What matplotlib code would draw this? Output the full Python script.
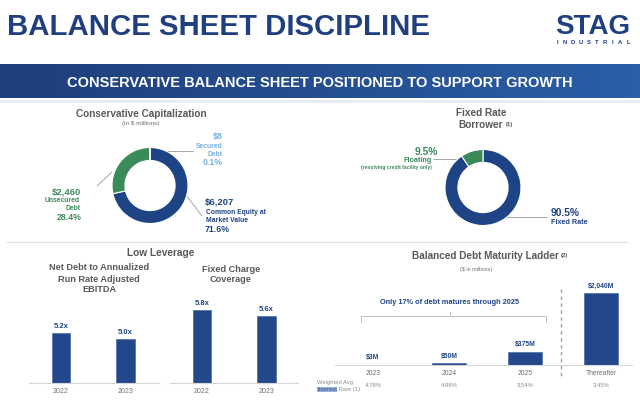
import matplotlib
matplotlib.use('Agg')
import matplotlib.pyplot as plt
import numpy as np
from matplotlib.colors import LinearSegmentedColormap

# ---------------- data ----------------
cap_names = ['Common Equity at\nMarket Value', 'Unsecured\nDebt', 'Secured\nDebt']
cap_values = [6207, 2460, 8]
cap_amounts = ['$6,207', '$2,460', '$8']
cap_pcts = ['71.6%', '28.4%', '0.1%']

rate_names = ['Fixed Rate', 'Floating']
rate_values = [90.5, 9.5]
rate_pcts = ['90.5%', '9.5%']

lev_years = ['2022', '2023']
net_debt_ebitda = [5.2, 5.0]
fixed_charge = [5.8, 5.6]

mat_labels = ['2023', '2024', '2025', 'Thereafter']
mat_values = [3, 50, 375, 2040]
mat_rates = ['4.78%', '4.98%', '3.54%', '3.45%']

# ---------------- style ----------------
NAVY = '#1f4485'
BAR = '#22478a'
GREEN = '#3b8a5a'
LBLUE = '#79aee3'
GRAY = '#595959'
TGRAY = '#707070'
LGRAY = '#bfbfbf'
FONT = ['Liberation Sans', 'DejaVu Sans']
plt.rcParams['font.family'] = FONT

W, H = 640, 400
fig = plt.figure(figsize=(6.4, 4.0), dpi=100)
fig.patch.set_facecolor('white')
bg = fig.add_axes([0, 0, 1, 1])
bg.set_xlim(0, W)
bg.set_ylim(H, 0)
bg.axis('off')


def px_axes(x0, y0, x1, y1):
    a = fig.add_axes([x0 / W, 1 - y1 / H, (x1 - x0) / W, (y1 - y0) / H])
    a.patch.set_alpha(0)
    return a


def T(x, y, s, size, color=GRAY, weight='bold', ha='center', va='center', **kw):
    return bg.text(x, y, s, fontsize=size, color=color, fontweight=weight,
                   ha=ha, va=va, **kw)


def TL(x, ys, s, size, color, ha):
    for y, line in zip(ys, s.split('\n')):
        T(x, y, line, size, color=color, ha=ha)


def L(xs, ys, color='#a6a6a6', lw=0.7, **kw):
    bg.plot(xs, ys, color=color, lw=lw, solid_capstyle='butt', **kw)


# ---------------- header ----------------
T(7, 35, 'BALANCE SHEET DISCIPLINE', 21.2, color='#1f3f80', ha='left', va='baseline')
T(593, 34, 'STAG', 20, color='#1f3f80', va='baseline')
for i, ch in enumerate('INDUSTRIAL'):
    T(557 + i * 7.9, 42, ch, 4.3, color='#1f3f80')

cmap = LinearSegmentedColormap.from_list('ban', ['#1e3e7c', '#2b5fa6'])
bg.imshow(np.linspace(0, 1, 256).reshape(1, -1), cmap=cmap, aspect='auto',
          extent=(0, W, 98, 64), zorder=0)
T(320, 87, 'CONSERVATIVE BALANCE SHEET POSITIONED TO SUPPORT GROWTH', 10.5,
  color='white', va='baseline')
L([0, W], [101, 101], color='#e8ecf2', lw=2)
L([6, 628], [242, 242], color='#e2e2e2', lw=0.8)

# ---------------- donut 1: capitalization ----------------
T(141, 114, 'Conservative Capitalization', 7.2)
T(141, 124, '(in $ millions)', 4.6, color=TGRAY, weight='normal')
ax1 = px_axes(112, 147.5, 188, 223.5)
ax1.pie(cap_values, colors=[NAVY, GREEN, LBLUE], startangle=90, counterclock=False,
        wedgeprops=dict(width=0.34, edgecolor='white', linewidth=0.8))
ax1.set_xlim(-1, 1)
ax1.set_ylim(-1, 1)
ax1.axis('off')

# secured
T(223, 136, cap_amounts[2], 6.5, color=LBLUE, ha='right')
TL(223, [147, 154.5], cap_names[2], 4.9, LBLUE, 'right')
T(223, 162.5, cap_pcts[2], 6.3, color=LBLUE, ha='right')
L([150, 193], [151, 151])
# unsecured
T(81, 192, cap_amounts[1], 6.8, color=GREEN, ha='right')
TL(80, [201, 208.5], cap_names[1], 4.9, GREEN, 'right')
T(82, 218, cap_pcts[1], 6.3, color=GREEN, ha='right')
L([97, 112], [186, 172])
# equity
T(205, 202, cap_amounts[0], 6.8, color=NAVY, ha='left')
TL(206, [212, 220], cap_names[0], 4.9, NAVY, 'left')
T(205, 229, cap_pcts[0], 6.3, color=NAVY, ha='left')
L([186, 202], [195, 216])

# ---------------- donut 2: fixed rate ----------------
T(481, 113, 'Fixed Rate', 7.2)
tb = T(481, 125, 'Borrower', 7.2)
bg.annotate('(1)', xy=(1, 1), xycoords=tb, xytext=(1.5, -1.2), textcoords='offset points',
            fontsize=4.2, color=GRAY, fontweight='bold', ha='left', va='top')
ax2 = px_axes(445, 149.5, 521, 225.5)
ax2.pie(rate_values, colors=[NAVY, GREEN], startangle=90, counterclock=False,
        wedgeprops=dict(width=0.34, edgecolor='white', linewidth=0.8))
ax2.set_xlim(-1, 1)
ax2.set_ylim(-1, 1)
ax2.axis('off')
T(438, 152, rate_pcts[1], 7.4, color=GREEN, ha='right')
T(432, 161, rate_names[1], 5.2, color=GREEN, ha='right')
T(432, 168, '(revolving credit facility only)', 3.6, color=GREEN, ha='right')
L([433, 462], [158.5, 158.5])
T(551, 213, rate_pcts[0], 7.4, color=NAVY, ha='left')
T(551, 223, rate_names[0], 5.2, color=NAVY, ha='left')
L([492, 547], [217, 217])

# ---------------- low leverage ----------------
T(161, 253, 'Low Leverage', 7.3)
TL(99, [268, 279, 290], 'Net Debt to Annualized\nRun Rate Adjusted\nEBITDA', 6.6, GRAY, 'center')
TL(231, [269, 279.5], 'Fixed Charge\nCoverage', 6.6, GRAY, 'center')


def lev_chart(x0, x1, c0, values, base):
    # c0: pixel centre of first bar; 64.5 px per category; 30 px per unit
    ax = px_axes(x0, 280, x1, 383)
    ax.bar(range(len(values)), values, width=0.29, color=BAR, edgecolor='#3a5f9f', lw=0.4)
    ax.set_xlim((x0 - c0) / 64.5, (x1 - c0) / 64.5)
    ax.set_ylim(base, base + 103 / 30)
    for s in ['top', 'right', 'left']:
        ax.spines[s].set_visible(False)
    ax.spines['bottom'].set_color('#d6d6d6')
    ax.spines['bottom'].set_linewidth(0.8)
    ax.set_yticks([])
    ax.set_xticks(range(len(values)))
    ax.set_xticklabels(lev_years, fontsize=5.0, color=TGRAY)
    ax.tick_params(axis='x', length=0, pad=3.8)
    for i, v in enumerate(values):
        ax.annotate(f'{v:.1f}x', xy=(i, v), xytext=(0, 5), textcoords='offset points',
                    ha='center', va='center', fontsize=5.5, color=NAVY, fontweight='bold')
    return ax


lev_chart(29, 159, 61, net_debt_ebitda, 5.2 - 50 / 30)
lev_chart(170, 298, 202, fixed_charge, 5.8 - 73 / 30)

# ---------------- maturity ladder ----------------
tm = T(485, 256, 'Balanced Debt Maturity Ladder', 7.2)
bg.annotate('(2)', xy=(1, 1), xycoords=tm, xytext=(1.5, -1.2), textcoords='offset points',
            fontsize=4.2, color=GRAY, fontweight='bold', ha='left', va='top')
T(476, 269, '($ in millions)', 3.9, color=TGRAY, weight='normal')

axm = px_axes(335, 270, 632, 365)
axm.bar(range(len(mat_values)), mat_values, width=0.46, color=BAR, edgecolor='#3a5f9f', lw=0.4)
axm.set_xlim(-0.5, (632 - 373) / 76)
axm.set_ylim(0, 2040 * 95 / 72)
for s in ['top', 'right', 'left']:
    axm.spines[s].set_visible(False)
axm.spines['bottom'].set_color('#d6d6d6')
axm.spines['bottom'].set_linewidth(0.8)
axm.set_yticks([])
axm.set_xticks(range(len(mat_values)))
axm.set_xticklabels(mat_labels, fontsize=4.9, color=TGRAY)
axm.tick_params(axis='x', length=0, pad=3.8)
for i, v in enumerate(mat_values):
    axm.annotate(f'${v:,}M', xy=(i, v), xytext=(0, 5), textcoords='offset points',
                 ha='center', va='center', fontsize=4.9, color=NAVY, fontweight='bold')
    axm.annotate(mat_rates[i], xy=(i, 0), xytext=(0, -15), textcoords='offset points',
                 ha='center', va='center', fontsize=4.3, color='#8c8c8c')

L([561, 561], [289, 376], color='#a0a0a0', lw=1.0, linestyle=(0, (2.5, 2.5)))

# bracket
T(450, 303, 'Only 17% of debt matures through 2025', 5.3, color=NAVY)
L([361, 546], [316, 316], color=LGRAY)
L([361.3, 361.3], [316, 322], color=LGRAY)
L([545.7, 545.7], [316, 322], color=LGRAY)
L([450, 450], [312, 316], color=LGRAY)

# weighted avg caption
T(317, 382.5, 'Weighted Avg', 4.2, color='#8c8c8c', weight='normal', ha='left')
ti = T(317, 389.5, 'Interest', 4.2, color='#555555', weight='normal', ha='left',
       bbox=dict(boxstyle='square,pad=0.05', fc='#8db0e6', ec='none'))
bg.annotate(' Rate (1)', xy=(1, 0.5), xycoords=ti, ha='left', va='center',
            fontsize=4.2, color='#8c8c8c')

fig.savefig('out.png', dpi=100, facecolor='white')
